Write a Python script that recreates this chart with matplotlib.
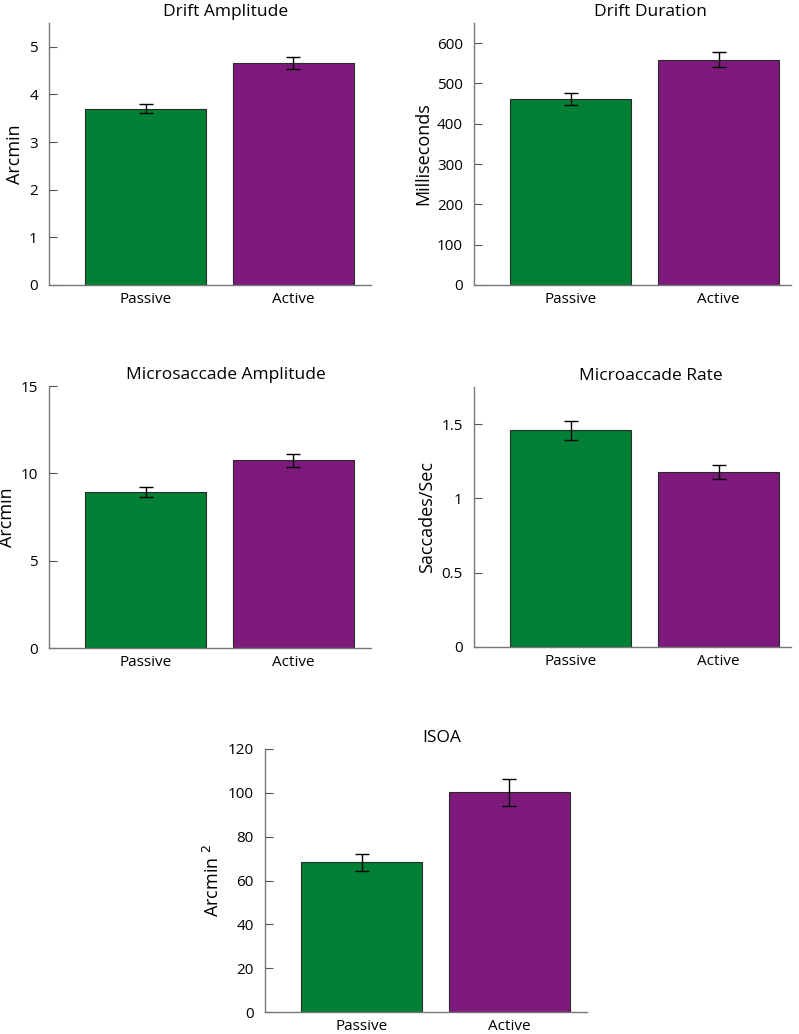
import matplotlib
matplotlib.use("Agg")
import matplotlib.pyplot as plt
from matplotlib.transforms import blended_transform_factory

plt.rcParams['font.family'] = ['Open Sans', 'DejaVu Sans']

conditions = ["Passive", "Active"]
bar_colors = ["#008034", "#7F1A7D"]

drift_amp = [3.70, 4.66]
drift_amp_err = [0.09, 0.12]

drift_dur = [461, 559]
drift_dur_err = [15.5, 18]

ms_amp = [8.95, 10.74]
ms_amp_err = [0.29, 0.37]

ms_rate = [1.46, 1.175]
ms_rate_err = [0.064, 0.047]

isoa = [68.3, 100.2]
isoa_err = [3.8, 6.2]

W, H = 799, 1034
fig = plt.figure(figsize=(W / 100, H / 100), dpi=100)


def px_axes(left, top, right, bottom):
    return fig.add_axes([left / W, 1 - bottom / H, (right - left) / W, (bottom - top) / H])


def panel(ax, vals, errs, title, ylabel, ylim, yticks, yticklabels, xlim, label_x):
    x = [1, 2]
    ax.bar(x, vals, width=0.82, color=bar_colors, edgecolor="#2a2a2a", linewidth=0.8, zorder=2)
    ax.errorbar(x, vals, yerr=errs, fmt="none", ecolor="black", elinewidth=1.0,
                capsize=5, capthick=1.0, zorder=3)
    ax.set_xlim(*xlim)
    ax.set_ylim(*ylim)
    ax.set_xticks(x)
    ax.set_xticklabels(conditions, fontsize=11)
    ax.set_yticks(yticks)
    ax.set_yticklabels(yticklabels, fontsize=11)
    ax.tick_params(axis="x", length=0, pad=5)
    ax.tick_params(axis="y", direction="in", length=6, width=0.8, color="#555555", pad=8)
    for s in ["top", "right"]:
        ax.spines[s].set_visible(False)
    for s in ["left", "bottom"]:
        ax.spines[s].set_color("#777777")
        ax.spines[s].set_linewidth(1.0)
    ax.set_ylabel(ylabel, fontsize=13)
    ax.yaxis.set_label_coords(label_x, 0.5)
    trans = blended_transform_factory(ax.transData, ax.transAxes)
    ax.text(1.5 + 0.04, 1.027, title, transform=trans, ha="center", va="baseline", fontsize=12.5)


ax1 = px_axes(49, 23, 371, 285)
panel(ax1, drift_amp, drift_amp_err, "Drift Amplitude", "Arcmin", (0, 5.5),
      [0, 1, 2, 3, 4, 5], ["0", "1", "2", "3", "4", "5"], (0.344, 2.527), -0.078)

ax2 = px_axes(474, 23, 791, 285)
panel(ax2, drift_dur, drift_dur_err, "Drift Duration", "Milliseconds", (0, 650),
      [0, 100, 200, 300, 400, 500, 600], ["0", "100", "200", "300", "400", "500", "600"],
      (0.344, 2.49), -0.133)

ax3 = px_axes(49, 386, 371, 648)
panel(ax3, ms_amp, ms_amp_err, "Microsaccade Amplitude", "Arcmin", (0, 15),
      [0, 5, 10, 15], ["0", "5", "10", "15"], (0.344, 2.527), -0.101)

ax4 = px_axes(474, 387, 791, 647)
panel(ax4, ms_rate, ms_rate_err, "Microaccade Rate", "Saccades/Sec", (0, 1.75),
      [0, 0.5, 1, 1.5], ["0", "0.5", "1", "1.5"], (0.344, 2.49), -0.12)

ax5 = px_axes(265, 749, 587, 1012)
panel(ax5, isoa, isoa_err, "ISOA", "Arcmin $^2$", (0, 120),
      [0, 20, 40, 60, 80, 100, 120], ["0", "20", "40", "60", "80", "100", "120"],
      (0.344, 2.527), -0.13)

fig.savefig("out.png", dpi=100)
